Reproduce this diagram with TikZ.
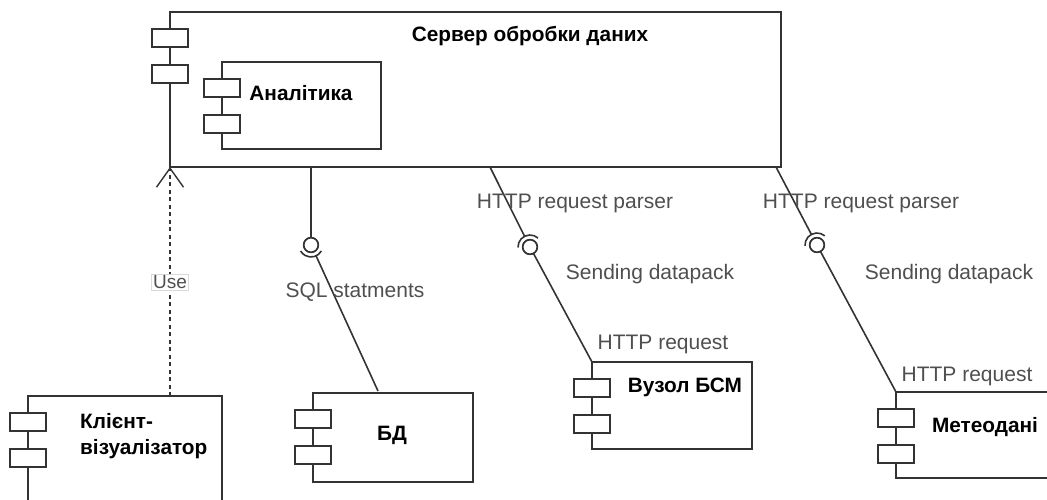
\documentclass[tikz,border=0pt]{standalone}
\usepackage{fontspec}
\setmainfont{Liberation Sans}
\usetikzlibrary{arrows.meta,calc}
\definecolor{edgec}{HTML}{333333}
\definecolor{labc}{HTML}{4F4F4F}
\tikzset{
  compbox/.style={draw=edgec, line width=1.6pt, fill=white, inner sep=0pt, outer sep=0pt, anchor=north west},
  comptab/.style={draw=edgec, line width=1.6pt, fill=white},
  title/.style={font=\fontsize{20.8}{25}\selectfont\bfseries, text=black, inner sep=0pt},
  lab/.style={font=\fontsize{21}{25}\selectfont, text=labc, inner sep=0pt},
  conn/.style={draw=edgec, line width=1.6pt},
  ball/.style={circle, draw=edgec, line width=1.6pt, fill=white, minimum size=14.5pt, inner sep=0pt, outer sep=0pt},
}
% two small tabs on the left edge of a component box
\newcommand\comptabs[1]{%
  \draw[comptab] ($(#1.north west)+(-18,17)$) rectangle ++(36,18);
  \draw[comptab] ($(#1.north west)+(-18,53)$) rectangle ++(36,18);
}
\begin{document}
\begin{tikzpicture}[x=1pt,y=-1pt]
\useasboundingbox (0,0) rectangle (1047,500);
\clip (0,0) rectangle (1047,500);

% components
\node[compbox, minimum width=611pt, minimum height=155pt] (srv) at (170,12) {};
\comptabs{srv}
\node[title] at (530,36) {Сервер обробки даних};

\node[compbox, minimum width=159pt, minimum height=87pt] (ana) at (222,62) {};
\comptabs{ana}
\node[title] at (301,93) {Аналітика};

\node[compbox, minimum width=194pt, minimum height=140pt] (cli) at (28,396) {};
\comptabs{cli}
\node[title, align=left, anchor=north west, font=\fontsize{20.8}{26}\selectfont\bfseries] at (80,413) {Клієнт-\\візуалізатор};

\node[compbox, minimum width=160pt, minimum height=89pt] (bd) at (313,393) {};
\comptabs{bd}
\node[title] at (392,435) {БД};

\node[compbox, minimum width=160pt, minimum height=87pt] (vz) at (592,362) {};
\comptabs{vz}
\node[title] at (685,387) {Вузол БСМ};

\node[compbox, minimum width=170pt, minimum height=86pt] (met) at (896,392) {};
\comptabs{met}
\node[title] at (985,427) {Метеодані};

% attachment points on the server
\coordinate (s0) at (170,167);
\coordinate (s1) at (311,167);
\coordinate (s2) at (490,167);
\coordinate (s3) at (776,167);

% interface balls
\node[ball] (i1) at (311,245) {};
\node[ball] (i2) at (530,247) {};
\node[ball] (i3) at (817,245) {};

% usage dependency
\draw[conn, dash pattern=on 4pt off 3.5pt, -{Straight Barb[length=19pt,width=27pt,line width=1.4pt]}] (cli.north west -| s0) -- (s0);
\node[lab, font=\fontsize{19}{22}\selectfont, fill=white, draw=gray!30, line width=0.7pt, inner sep=1.5pt] at (170,282) {Use};

% SQL interface
\draw[conn] (s1) -- (i1);
\draw[conn] ($(i1)+(30:12)$) arc (30:150:12);
\draw[conn] ($(i1)+(65:12)$) -- ($(bd.north west)+(65,-2)$);
\node[lab] at (355,292) {SQL statments};

% HTTP interface to the BSM node
\draw[conn] (s2) -- ($(i2)+(243:12)$);
\draw[conn] ($(i2)+(178:12)$) arc (178:312:12);
\draw[conn] (i2) -- (vz.north west);
\node[lab] at (575,203) {HTTP request parser};
\node[lab] at (650,274) {Sending datapack};
\node[lab] at (663,344) {HTTP request};

% HTTP interface to weather data
\draw[conn] (s3) -- ($(i3)+(242:12)$);
\draw[conn] ($(i3)+(176:12)$) arc (176:310:12);
\draw[conn] (i3) -- (met.north west);
\node[lab] at (861,203) {HTTP request parser};
\node[lab] at (949,274) {Sending datapack};
\node[lab] at (967,376) {HTTP request};

% redraw balls above the connectors
\node[ball] at (i1) {};
\node[ball] at (i2) {};
\node[ball] at (i3) {};
\end{tikzpicture}
\end{document}
